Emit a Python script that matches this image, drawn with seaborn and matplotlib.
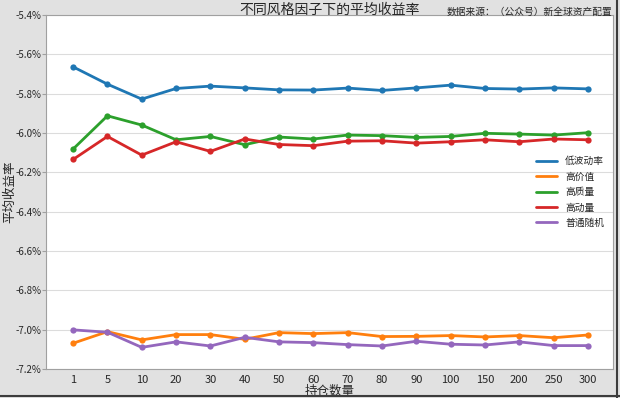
import matplotlib
matplotlib.use("Agg")
import matplotlib.pyplot as plt
import pandas as pd
import seaborn as sns
from matplotlib.lines import Line2D
from matplotlib.ticker import FuncFormatter

# Data (mean return, %)
holdings = ["1", "5", "10", "20", "30", "40", "50", "60", "70", "80",
            "90", "100", "150", "200", "250", "300"]
styles = ["低波动率", "高价值", "高质量", "高动量", "普通随机"]

low_vol = [-5.663, -5.751, -5.827, -5.773, -5.761, -5.770, -5.780, -5.781,
           -5.771, -5.783, -5.770, -5.756, -5.773, -5.776, -5.770, -5.775]
high_value = [-7.069, -7.010, -7.052, -7.025, -7.025, -7.049, -7.015, -7.020,
              -7.015, -7.035, -7.034, -7.030, -7.037, -7.030, -7.041, -7.027]
high_quality = [-6.081, -5.912, -5.959, -6.034, -6.017, -6.059, -6.020, -6.030,
                -6.010, -6.013, -6.022, -6.017, -6.001, -6.005, -6.010, -5.998]
high_momentum = [-6.134, -6.017, -6.112, -6.044, -6.093, -6.030, -6.058, -6.064,
                 -6.041, -6.039, -6.051, -6.044, -6.034, -6.044, -6.030, -6.034]
random_pick = [-7.001, -7.013, -7.090, -7.062, -7.083, -7.039, -7.062, -7.066,
               -7.076, -7.083, -7.059, -7.074, -7.078, -7.062, -7.081, -7.081]

series = [low_vol, high_value, high_quality, high_momentum, random_pick]
colors = ["#1f77b4", "#ff7f0e", "#2ca02c", "#d62728", "#9467bd"]

# long format table for seaborn
rows = []
for name, vals in zip(styles, series):
    for h, v in zip(holdings, vals):
        rows.append({"持仓数量": h, "收益率": v, "风格": name})
df = pd.DataFrame(rows)

sns.set_style("whitegrid")
plt.rcParams["font.family"] = ["Noto Sans CJK SC", "DejaVu Sans"]
plt.rcParams["axes.unicode_minus"] = False

fig = plt.figure(figsize=(6.2, 3.98), dpi=100, facecolor="#e1e1e1")
ax = fig.add_axes([0.0742, 0.0729, 0.9145, 0.889])

sns.lineplot(data=df, x="持仓数量", y="收益率", hue="风格", hue_order=styles,
             palette=colors, sort=False, marker="o", markersize=4.5,
             markeredgewidth=0, linewidth=2, ax=ax, legend=False)

ax.set_ylim(-7.2, -5.4)
ax.set_yticks([-7.2, -7.0, -6.8, -6.6, -6.4, -6.2, -6.0, -5.8, -5.6, -5.4])
ax.yaxis.set_major_formatter(FuncFormatter(lambda v, p: "%.1f%%" % v))
ax.set_xlim(-0.79, 15.73)

ax.grid(axis="x", visible=False)
ax.grid(axis="y", color="#dcdcdc", linewidth=0.8)
for s in ax.spines.values():
    s.set_color("#a0a0a0")
    s.set_linewidth(0.8)
ax.tick_params(axis="y", left=True, length=3, color="#a0a0a0", labelsize=7, pad=0.5)
ax.tick_params(axis="x", bottom=False, labelsize=8, pad=0.5)

ax.set_xlabel("持仓数量", fontsize=9, va="center")
ax.xaxis.set_label_coords(0.5, -0.064)
ax.set_ylabel("平均收益率", fontsize=9, va="center")
ax.yaxis.set_label_coords(-0.0635, 0.5)
ax.set_title("不同风格因子下的平均收益率", fontsize=10, pad=0, y=1.014, va="center")
fig.text(0.987, 0.97, "数据来源：（公众号）新全球资产配置", fontsize=7, ha="right", va="center")

handles = [Line2D([], [], color=c, linewidth=2) for c in colors]
ax.legend(handles, styles, loc="center right", frameon=False, fontsize=7,
          handlelength=2.2, labelspacing=0.55, bbox_to_anchor=(1.0, 0.5))

# window frame edges seen in the screenshot
fig.add_artist(Line2D([0.995, 0.995], [0, 1], transform=fig.transFigure, color="#3c3c3c", lw=1.5))
fig.add_artist(Line2D([0, 1], [0.004, 0.004], transform=fig.transFigure, color="#3c3c3c", lw=1.5))

fig.savefig("out.png", dpi=100, facecolor=fig.get_facecolor())
